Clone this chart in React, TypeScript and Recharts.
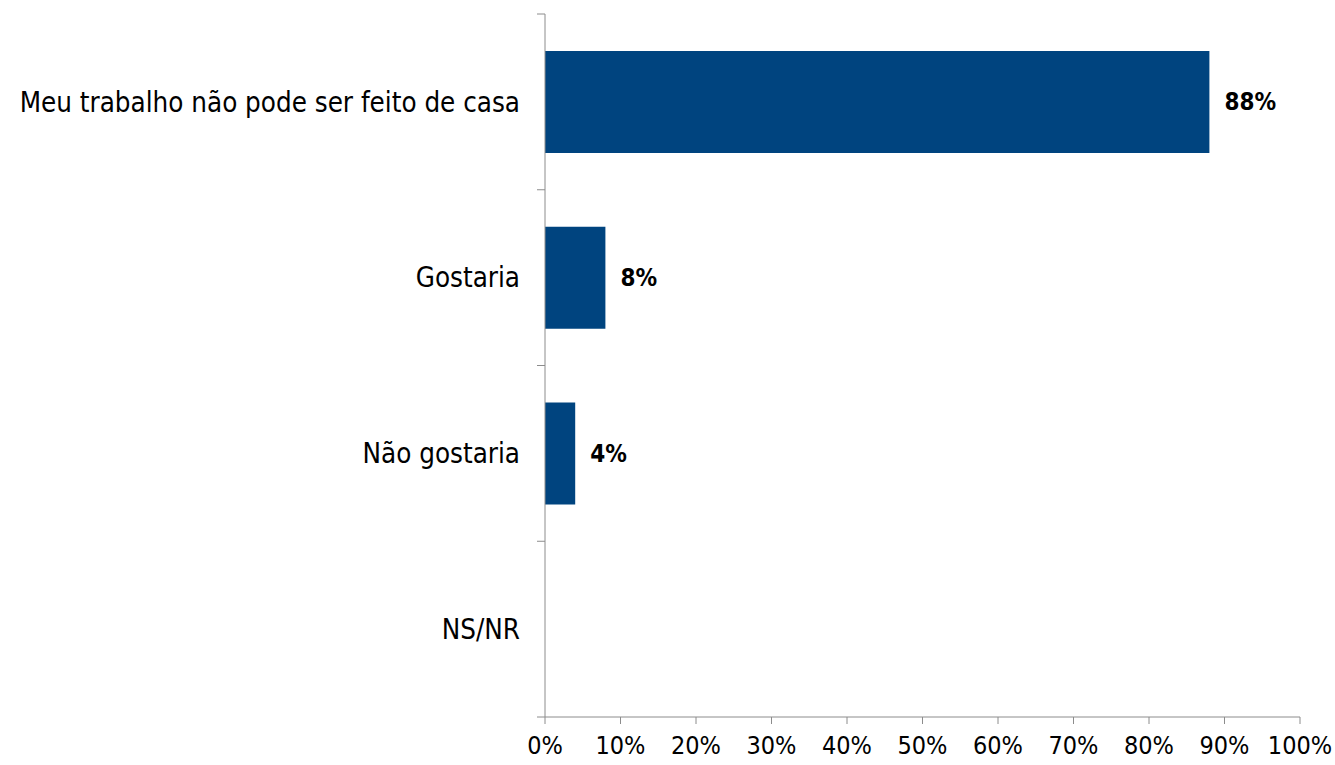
import { BarChart, Bar, XAxis, YAxis, LabelList } from 'recharts';

const categories = ['Meu trabalho não pode ser feito de casa', 'Gostaria', 'Não gostaria', 'NS/NR'];
const values = [88, 8, 4, 0];
const xTicks = [0, 10, 20, 30, 40, 50, 60, 70, 80, 90, 100];

const data = categories.map((name, i) => ({ name, value: values[i] }));

const FONT = '"DejaVu Sans Condensed", "DejaVu Sans", sans-serif';
const AXIS = '#8c8c8c';
const Y_TICK_SIZE = 8;
const Y_TICK_MARGIN = 17;

// Category label plus a tick mark on the band edges (Excel style)
const CategoryTick = (props: any) => {
    const { x, y, payload, index, visibleTicksCount, height } = props;
    const half = payload?.offset || (height && visibleTicksCount ? height / visibleTicksCount / 2 : 0);
    const axisX = x + Y_TICK_SIZE + Y_TICK_MARGIN;
    const isLast = index === visibleTicksCount - 1;
    return (
        <g>
            <line x1={axisX - Y_TICK_SIZE} x2={axisX} y1={y - half} y2={y - half} stroke={AXIS} />
            {isLast && <line x1={axisX - Y_TICK_SIZE} x2={axisX} y1={y + half} y2={y + half} stroke={AXIS} />}
            <text x={x} y={y} dy="0.355em" textAnchor="end" fill="#000" fontSize={27.5} fontFamily={FONT}>
                {payload.value}
            </text>
        </g>
    );
};

export default function App() {
    return (
        <div style={{ position: 'absolute', left: 0, top: 0, background: '#fff' }}>
            <BarChart
                width={1335}
                height={765}
                data={data}
                layout="vertical"
                margin={{ top: 14, right: 35, bottom: 0, left: 0 }}
                barCategoryGap="21%"
            >
                <XAxis
                    type="number"
                    domain={[0, 100]}
                    ticks={xTicks}
                    tickFormatter={(v: number) => `${v}%`}
                    stroke={AXIS}
                    tickSize={7}
                    tickMargin={12}
                    height={48}
                    interval={0}
                    tick={{ fill: '#000', fontSize: 25, fontFamily: FONT }}
                />
                <YAxis
                    type="category"
                    dataKey="name"
                    width={545}
                    stroke={AXIS}
                    tickLine={false}
                    tickSize={Y_TICK_SIZE}
                    tickMargin={Y_TICK_MARGIN}
                    interval={0}
                    tick={<CategoryTick />}
                />
                <Bar dataKey="value" fill="#00447f" isAnimationActive={false}>
                    <LabelList
                        dataKey="value"
                        position="right"
                        offset={15}
                        formatter={(v: any) => (v > 0 ? `${v}%` : '')}
                        style={{ fill: '#000', fontSize: 24, fontWeight: 'bold', fontFamily: FONT }}
                    />
                </Bar>
            </BarChart>
        </div>
    );
}
